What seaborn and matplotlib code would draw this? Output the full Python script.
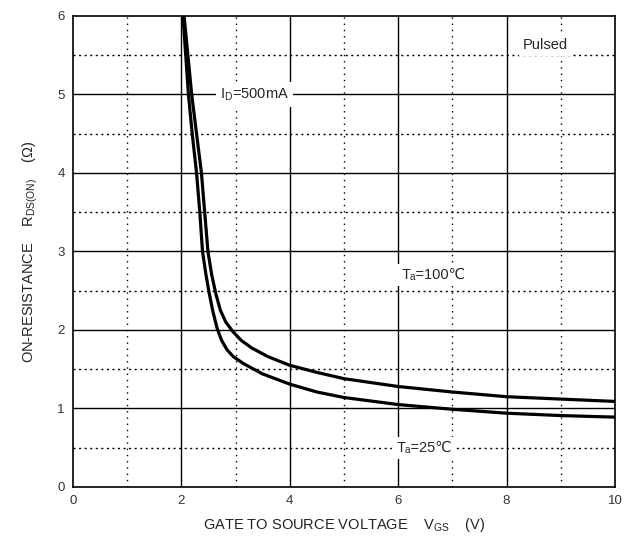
import pandas as pd
import matplotlib
matplotlib.use("Agg")
import matplotlib.pyplot as plt
import seaborn as sns

# Curve data (V_GS in V, R_DS(on) in ohm)
vgs_25 = [2.03, 2.08, 2.13, 2.20, 2.28, 2.34, 2.39, 2.45, 2.51, 2.58, 2.66, 2.74, 2.84, 2.96,
          3.15, 3.5, 4.0, 4.5, 5.0, 6.0, 7.0, 8.0, 9.0, 10.0]
rds_25 = [6.0, 5.5, 5.0, 4.5, 4.0, 3.5, 3.0, 2.72, 2.48, 2.24, 2.02, 1.87, 1.75, 1.66,
          1.57, 1.44, 1.31, 1.21, 1.14, 1.05, 0.99, 0.94, 0.91, 0.89]
vgs_100 = [2.05, 2.12, 2.19, 2.28, 2.37, 2.43, 2.49, 2.56, 2.64, 2.72, 2.82, 2.95, 3.1, 3.3,
           3.6, 4.0, 4.5, 5.0, 6.0, 7.0, 8.0, 9.0, 10.0]
rds_100 = [6.0, 5.5, 5.0, 4.5, 4.0, 3.5, 3.0, 2.7, 2.45, 2.25, 2.1, 1.98, 1.87, 1.77,
           1.66, 1.55, 1.46, 1.38, 1.28, 1.21, 1.15, 1.12, 1.09]

x_ticks = [0, 2, 4, 6, 8, 10]
y_ticks = [0, 1, 2, 3, 4, 5, 6]

df = pd.concat([
    pd.DataFrame({"Vgs": vgs_25, "Rds": rds_25, "Ta": "25"}),
    pd.DataFrame({"Vgs": vgs_100, "Rds": rds_100, "Ta": "100"}),
])

sns.set_style("white")
plt.rcParams["font.family"] = ["Liberation Sans", "DejaVu Sans"]
plt.rcParams["mathtext.fontset"] = "custom"
plt.rcParams["mathtext.rm"] = "Liberation Sans"

fig = plt.figure(figsize=(6.32, 5.44), dpi=100)
ax = fig.add_axes([0.1155, 0.1048, 0.8575, 0.8658])

# grid: solid majors, dotted minors
for v in [2, 4, 6, 8]:
    ax.axvline(v, color="black", lw=1.0, zorder=1)
for v in [1, 3, 5, 7, 9]:
    ax.axvline(v, color="black", lw=1.0, ls=(0, (1, 3.5)), zorder=1)
for v in [1, 2, 3, 4, 5]:
    ax.axhline(v, color="black", lw=1.0, zorder=1)
for v in [0.5, 1.5, 2.5, 3.5, 4.5, 5.5]:
    ax.axhline(v, color="black", lw=1.0, ls=(0, (1.5, 2.5)), zorder=1)

sns.lineplot(data=df, x="Vgs", y="Rds", units="Ta", estimator=None, sort=False,
             color="black", lw=2.3, ax=ax, zorder=3)

ax.set_xlim(0, 10)
ax.set_ylim(0, 6)
ax.set_xticks(x_ticks)
ax.set_yticks(y_ticks)
ax.tick_params(length=0, labelsize=9.5, labelcolor="#333333", pad=6)
for s in ax.spines.values():
    s.set_color("black")
    s.set_linewidth(1.2)

box = dict(facecolor="white", edgecolor="none", pad=3)
ax.text(3.35, 5.0, r"I$_\mathregular{D}$=500mA", fontsize=10.5, ha="center", va="center",
        bbox=box, zorder=4)
ax.text(8.72, 5.63, "Pulsed", fontsize=10.5, ha="center", va="center", bbox=box, zorder=4)
# plain text (no mathtext) so the ℃ sign can fall back to DejaVu Sans
ax.text(6.65, 2.7, "Tₐ=100℃", fontsize=10.5, ha="center", va="center",
        bbox=box, zorder=4)
ax.text(6.48, 0.5, "Tₐ=25℃", fontsize=10.5, ha="center", va="center",
        bbox=box, zorder=4)

ax.set_xlabel(r"GATE TO SOURCE VOLTAGE    V$_\mathregular{GS}$    (V)", fontsize=10.5,
              color="#222222", labelpad=6)
ax.set_ylabel(r"ON-RESISTANCE    R$_\mathregular{DS(ON)}$    ($\Omega$)", fontsize=10.5,
              color="#222222", labelpad=12)

fig.savefig("out.png", dpi=100)
